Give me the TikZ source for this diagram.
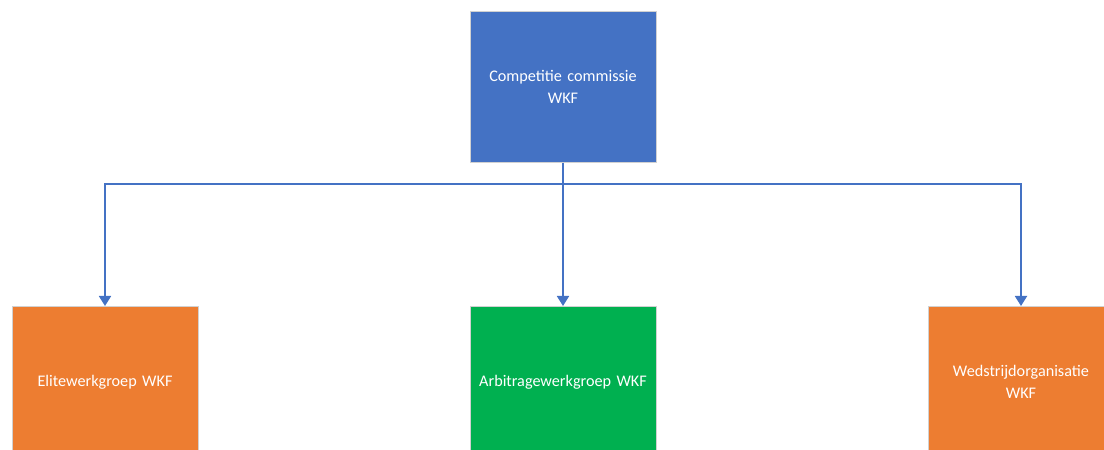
\documentclass[tikz,border=0pt]{standalone}
\usepackage{fontspec}
\setmainfont{Carlito}
\usetikzlibrary{arrows.meta}
\definecolor{cblue}{HTML}{4472C4}
\definecolor{corange}{HTML}{ED7D31}
\definecolor{cgreen}{HTML}{00B050}
\begin{document}
\begin{tikzpicture}[x=1pt,y=1pt,
  orgbox/.style={minimum width=186pt,minimum height=151pt,inner sep=2pt,draw=black!18,line width=0.8pt,
    text=white,font=\fontsize{16.2}{22.5}\selectfont,align=center,text width=182pt},
  conn/.style={draw=cblue,line width=1.8pt,-{Triangle[length=10pt,width=12pt]}}]
\useasboundingbox (0,0) rectangle (1104,450);
\begin{scope}
\clip (0,0) rectangle (1104,450);
\fill[white] (0,0) rectangle (1104,450);
\node[orgbox,fill=cblue] (top) at (563,363) {Competitie commissie\\WKF};
\node[orgbox,fill=corange,anchor=north] (left) at (105,144) {Elitewerkgroep WKF};
\node[orgbox,fill=cgreen,anchor=north] (mid) at (563,144) {Arbitragewerkgroep WKF};
\node[orgbox,fill=corange,anchor=north] (right) at (1021,144) {Wedstrijdorganisatie\\WKF};
\coordinate (j) at (563,266);
\draw[conn] (top.south) -- (j) -| (left.north);
\draw[conn] (j) -| (right.north);
\draw[conn] (top.south) -- (mid.north);
\end{scope}
\end{tikzpicture}
\end{document}
